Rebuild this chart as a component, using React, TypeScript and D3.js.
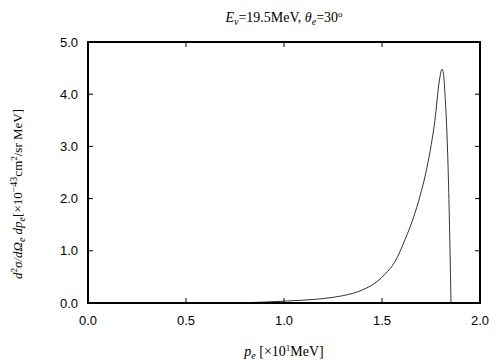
import React from "react";
import * as d3 from "d3";

const pe: number[] = [0.74, 0.8, 0.9, 1.0, 1.1, 1.2, 1.3, 1.4, 1.478, 1.515, 1.566, 1.617, 1.66, 1.694, 1.724, 1.745, 1.77, 1.793, 1.806, 1.815, 1.821, 1.83, 1.838, 1.845, 1.852];
const xs: number[] = [0, 0.005, 0.018, 0.035, 0.055, 0.085, 0.14, 0.25, 0.42, 0.55, 0.79, 1.21, 1.63, 2.05, 2.5, 2.9, 3.5, 4.27, 4.48, 4.35, 4.02, 3.37, 2.49, 1.4, 0];
const xTicks: number[] = [0, 0.5, 1.0, 1.5, 2.0];
const yTicks: number[] = [0, 1, 2, 3, 4, 5];

const W = 504, H = 360;
const L = 88, R = 480, T = 42, B = 303;

export default function App() {
  const x = d3.scaleLinear().domain([0, 2]).range([L, R]);
  const y = d3.scaleLinear().domain([0, 5]).range([B, T]);
  const data = pe.map((p, i) => [p, xs[i]] as [number, number]);
  const line = d3.line<[number, number]>().x(d => x(d[0])).y(d => y(d[1])).curve(d3.curveMonotoneX);
  const sans = { fontFamily: "Liberation Sans" };
  const serif = { fontFamily: "Liberation Serif" };
  const tl = 5;
  return (
    <svg width={W} height={H} style={{ position: "absolute", left: 0, top: 0, background: "#fff" }}>
      <rect x={0} y={0} width={W} height={H} fill="#fff" />
      <path d={line(data) || ""} fill="none" stroke="#333" strokeWidth={1} />
      {xTicks.map(t => (
        <g key={"x" + t}>
          <line x1={x(t)} x2={x(t)} y1={B} y2={B - tl} stroke="#000" />
          <line x1={x(t)} x2={x(t)} y1={T} y2={T + tl} stroke="#000" />
          <text x={x(t)} y={325} textAnchor="middle" style={sans} fontSize={13} fill="#000">{t.toFixed(1)}</text>
        </g>
      ))}
      {yTicks.map(t => (
        <g key={"y" + t}>
          <line x1={L} x2={L + tl} y1={y(t)} y2={y(t)} stroke="#000" />
          <line x1={R} x2={R - tl} y1={y(t)} y2={y(t)} stroke="#000" />
          <text x={78} y={y(t) + 4.5} textAnchor="end" style={sans} fontSize={13} fill="#000">{t.toFixed(1)}</text>
        </g>
      ))}
      <rect x={L} y={T} width={R - L} height={B - T} fill="none" stroke="#000" strokeWidth={2} />
      <text x={284} y={22} textAnchor="middle" style={serif} fontSize={14} fill="#000">
        <tspan fontStyle="italic">E</tspan>
        <tspan fontStyle="italic" fontSize={10} dy={3}>ν</tspan>
        <tspan dy={-3}>=19.5MeV,  </tspan>
        <tspan fontStyle="italic">θ</tspan>
        <tspan fontStyle="italic" fontSize={10} dy={3}>e</tspan>
        <tspan dy={-3}>=30</tspan>
        <tspan fontSize={9} dy={-5}>o</tspan>
      </text>
      <text x={284} y={356} textAnchor="middle" style={serif} fontSize={14} fill="#000">
        <tspan fontStyle="italic">p</tspan>
        <tspan fontStyle="italic" fontSize={10} dy={3}>e</tspan>
        <tspan dy={-3}> [×10</tspan>
        <tspan fontSize={9} dy={-5}>1</tspan>
        <tspan dy={5}>MeV]</tspan>
      </text>
      <text transform="translate(22,194) rotate(-90)" textAnchor="middle" style={serif} fontSize={13} fill="#000">
        <tspan fontStyle="italic">d</tspan>
        <tspan fontSize={9} dy={-5}>2</tspan>
        <tspan fontStyle="italic" dy={5}>σ/dΩ</tspan>
        <tspan fontStyle="italic" fontSize={10} dy={3}>e</tspan>
        <tspan fontStyle="italic" dy={-3}> dp</tspan>
        <tspan fontStyle="italic" fontSize={10} dy={3}>e</tspan>
        <tspan dy={-3}>[×10</tspan>
        <tspan fontSize={10} dy={-5}>−43</tspan>
        <tspan dy={5}>cm</tspan>
        <tspan fontSize={9} dy={-5}>2</tspan>
        <tspan dy={5}>/sr MeV]</tspan>
      </text>
    </svg>
  );
}
